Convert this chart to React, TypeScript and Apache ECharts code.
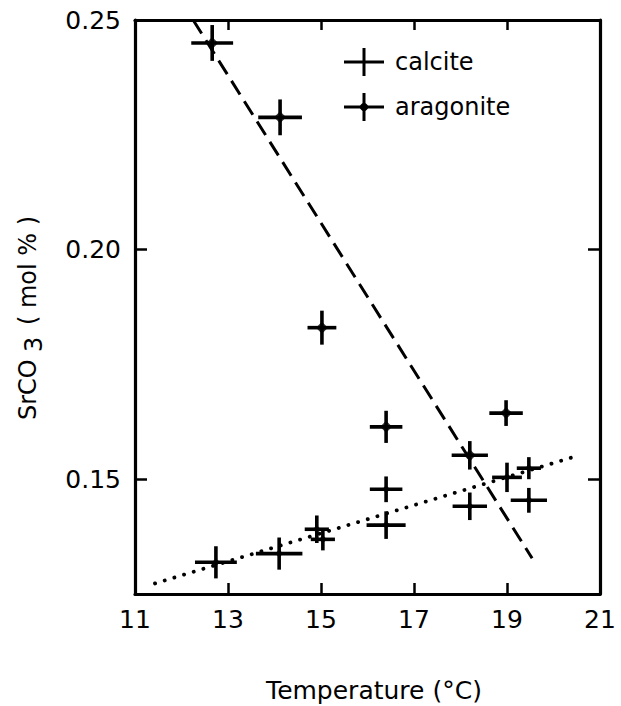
import React, { useEffect, useRef } from "react";
import * as echarts from "echarts";

// Aragonite samples: temperature (°C), SrCO3 (mol %), and error half-widths
const aragoniteTemp = [12.66, 14.12, 15.02, 16.4, 18.2, 18.98];
const aragoniteSr = [0.245, 0.2288, 0.183, 0.1614, 0.1552, 0.1644];
const aragoniteTempErr = [0.45, 0.47, 0.31, 0.35, 0.39, 0.36];
const aragoniteSrErr = [0.0039, 0.0039, 0.0037, 0.0035, 0.0031, 0.0028];

// Calcite samples
const calciteTemp = [12.74, 14.1, 14.91, 15.04, 16.4, 16.4, 18.2, 19.0, 19.47, 19.47];
const calciteSr = [0.1319, 0.1338, 0.1391, 0.1369, 0.1478, 0.14, 0.1441, 0.1504, 0.1524, 0.1454];
const calciteTempErr = [0.45, 0.5, 0.26, 0.26, 0.35, 0.42, 0.37, 0.32, 0.26, 0.39];
const calciteSrErr = [0.0035, 0.0035, 0.003, 0.0024, 0.0028, 0.003, 0.003, 0.0032, 0.0024, 0.0027];

// Regression lines (end points)
const dashedFitTemp = [12.25, 19.54];
const dashedFitSr = [0.25, 0.1328];
const dottedFitTemp = [11.43, 20.42];
const dottedFitSr = [0.1273, 0.1548];

// Axis ticks
const xTickLabels = [11, 13, 15, 17, 19, 21];
const xInnerTicks = [13, 15, 17, 19];
const yTickLabels = [0.15, 0.2, 0.25];
const yInnerTicks = [0.15, 0.2];

const FONT = "DejaVu Sans";
const CROSS = "path://M0 12.5H18.5V0H21.5V12.5H40V15.5H21.5V28H18.5V15.5H0Z";
const CROSS_DOT =
  "path://M0 12.5H18.5V0H21.5V12.5H40V15.5H21.5V28H18.5V15.5H0Z M20 8.5L25.5 14L20 19.5L14.5 14Z";

function errData(t: number[], s: number[], te: number[], se: number[]) {
  return t.map((v, i) => [v, s[i], te[i], se[i]]);
}

function renderCross(params: any, api: any) {
  const x = api.value(0);
  const y = api.value(1);
  const xe = api.value(2);
  const ye = api.value(3);
  const l = api.coord([x - xe, y]);
  const r = api.coord([x + xe, y]);
  const t = api.coord([x, y + ye]);
  const b = api.coord([x, y - ye]);
  const style = { stroke: "#000", lineWidth: 3.6, fill: null };
  return {
    type: "group",
    children: [
      { type: "line", shape: { x1: l[0], y1: l[1], x2: r[0], y2: r[1] }, style },
      { type: "line", shape: { x1: t[0], y1: t[1], x2: b[0], y2: b[1] }, style },
    ],
  };
}

export default function App() {
  const ref = useRef<HTMLDivElement>(null);

  useEffect(() => {
    if (!ref.current) return;
    const chart = echarts.init(ref.current, undefined, { renderer: "svg" });
    const axisLineStyle = { color: "#000", width: 3.2 };
    const tickStyle = { color: "#000", width: 2.5 };
    const labelStyle = { color: "#000", fontSize: 25, fontFamily: FONT };

    chart.setOption({
      animation: false,
      backgroundColor: "#fff",
      grid: { left: 135, right: 21, top: 20, bottom: 112, containLabel: false },
      legend: {
        orient: "vertical",
        left: 344,
        top: 48,
        padding: 0,
        itemWidth: 40,
        itemHeight: 28,
        itemGap: 17,
        selectedMode: false,
        textStyle: { color: "#000", fontSize: 24, fontFamily: FONT, padding: [0, 0, 0, 6] },
        data: [
          { name: "calcite", icon: CROSS },
          { name: "aragonite", icon: CROSS_DOT },
        ],
      },
      xAxis: [
        {
          type: "value",
          min: 11,
          max: 21,
          position: "bottom",
          splitLine: { show: false },
          axisLine: { lineStyle: axisLineStyle },
          axisTick: { inside: true, length: 11, lineStyle: tickStyle, customValues: xInnerTicks },
          axisLabel: { ...labelStyle, margin: 13, customValues: xTickLabels },
        },
        {
          type: "value",
          min: 11,
          max: 21,
          position: "top",
          splitLine: { show: false },
          axisLine: { lineStyle: axisLineStyle },
          axisTick: { inside: true, length: 10, lineStyle: tickStyle, customValues: xInnerTicks },
          axisLabel: { show: false },
        },
      ],
      yAxis: [
        {
          type: "value",
          min: 0.125,
          max: 0.25,
          position: "left",
          splitLine: { show: false },
          axisLine: { lineStyle: axisLineStyle },
          axisTick: { inside: true, length: 12, lineStyle: tickStyle, customValues: yInnerTicks },
          axisLabel: {
            ...labelStyle,
            margin: 14,
            customValues: yTickLabels,
            formatter: (v: number) => v.toFixed(2),
          },
        },
        {
          type: "value",
          min: 0.125,
          max: 0.25,
          position: "right",
          splitLine: { show: false },
          axisLine: { lineStyle: axisLineStyle },
          axisTick: { inside: true, length: 12, lineStyle: tickStyle, customValues: yInnerTicks },
          axisLabel: { show: false },
        },
      ],
      series: [
        {
          name: "dashed fit",
          type: "line",
          data: dashedFitTemp.map((t, i) => [t, dashedFitSr[i]]),
          symbol: "none",
          lineStyle: { color: "#000", width: 3, type: [16, 8] },
          silent: true,
        },
        {
          name: "dotted fit",
          type: "line",
          data: dottedFitTemp.map((t, i) => [t, dottedFitSr[i]]),
          symbol: "none",
          lineStyle: { color: "#000", width: 3.8, type: [0.1, 10], cap: "round" },
          silent: true,
        },
        {
          name: "calcite",
          type: "custom",
          renderItem: renderCross,
          itemStyle: { color: "#000" },
          clip: false,
          encode: { x: 0, y: 1 },
          data: errData(calciteTemp, calciteSr, calciteTempErr, calciteSrErr),
        },
        {
          name: "aragonite",
          type: "custom",
          renderItem: renderCross,
          itemStyle: { color: "#000" },
          clip: false,
          encode: { x: 0, y: 1 },
          data: errData(aragoniteTemp, aragoniteSr, aragoniteTempErr, aragoniteSrErr),
        },
        {
          name: "calcite",
          type: "scatter",
          symbol: "diamond",
          symbolSize: 8,
          itemStyle: { color: "#000" },
          data: calciteTemp.map((t, i) => [t, calciteSr[i]]),
        },
        {
          name: "aragonite",
          type: "scatter",
          symbol: "diamond",
          symbolSize: 12,
          itemStyle: { color: "#000" },
          data: aragoniteTemp.map((t, i) => [t, aragoniteSr[i]]),
        },
      ],
      graphic: [
        {
          type: "text",
          x: 374,
          y: 690,
          style: {
            text: "Temperature (°C)",
            fontSize: 25,
            fontFamily: FONT,
            fill: "#000",
            align: "center",
            verticalAlign: "middle",
          },
        },
        {
          type: "text",
          x: 28,
          y: 420,
          rotation: Math.PI / 2,
          style: {
            text: "SrCO",
            fontSize: 24,
            fontFamily: FONT,
            fill: "#000",
            align: "left",
            verticalAlign: "middle",
          },
        },
        {
          type: "text",
          x: 34,
          y: 352,
          rotation: Math.PI / 2,
          style: {
            text: "3",
            fontSize: 24,
            fontFamily: FONT,
            fill: "#000",
            align: "left",
            verticalAlign: "middle",
          },
        },
        {
          type: "text",
          x: 28,
          y: 325,
          rotation: Math.PI / 2,
          style: {
            text: "( mol % )",
            fontSize: 24,
            fontFamily: FONT,
            fill: "#000",
            align: "left",
            verticalAlign: "middle",
          },
        },
      ],
    });
    return () => chart.dispose();
  }, []);

  return (
    <div
      ref={ref}
      style={{ position: "fixed", left: 0, top: 0, width: 621, height: 706, background: "#fff" }}
    />
  );
}
